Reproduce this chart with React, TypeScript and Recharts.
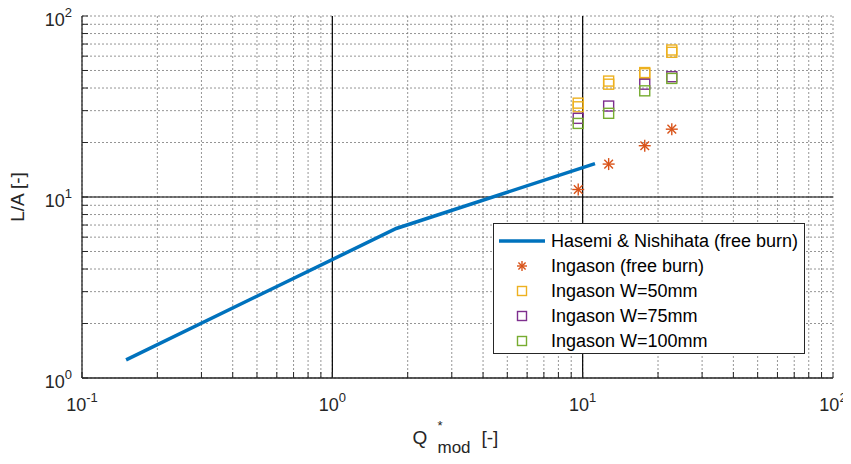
import React from 'react'
import { ComposedChart, Line, Scatter, XAxis, YAxis, CartesianGrid, ReferenceLine } from 'recharts'

// Hasemi & Nishihata correlation (vertices of the log-log polyline)
const hasemiQ = [0.15, 1.8, 11.2]
const hasemiLA = [1.26, 6.7, 15.3]

// Ingason measurements
const freeQ = [9.6, 12.7, 17.7, 22.7]
const freeLA = [11.0, 15.2, 19.2, 23.7]
const w50Q = [9.6, 9.6, 12.7, 12.7, 17.7, 17.7, 22.7, 22.7]
const w50LA = [33.0, 31.5, 43.7, 42.0, 48.7, 48.0, 64.9, 63.0]
const w75Q = [9.6, 12.7, 17.7, 22.7]
const w75LA = [27.2, 31.8, 42.0, 46.2]
const w100Q = [9.6, 12.7, 17.7, 22.7]
const w100LA = [25.5, 29.0, 38.6, 45.2]

const xTicks = [0.1, 0.2, 0.3, 0.4, 0.5, 0.6, 0.7, 0.8, 0.9, 1, 2, 3, 4, 5, 6, 7, 8, 9, 10, 20, 30, 40, 50, 60, 70, 80, 90, 100]
const yTicks = [1, 2, 3, 4, 5, 6, 7, 8, 9, 10, 20, 30, 40, 50, 60, 70, 80, 90, 100]
const xMajorGrid = [1, 10]
const yMajorGrid = [10]

const BLUE = '#0072BD'
const ORANGE = '#D95319'
const YELLOW = '#EDB120'
const PURPLE = '#7E2F8E'
const GREEN = '#77AC30'
const INK = '#262626'

const pts = (xs: number[], ys: number[]) => xs.map((x, i) => ({ x, y: ys[i] }))
const hasemi = pts(hasemiQ, hasemiLA)
const free = pts(freeQ, freeLA)
const w50 = pts(w50Q, w50LA)
const w75 = pts(w75Q, w75LA)
const w100 = pts(w100Q, w100LA)

const decade = (v: number) => {
  const l = Math.log10(v)
  return Math.abs(l - Math.round(l)) < 1e-9 ? Math.round(l) : null
}

function BottomTick({ x, y, payload }: any) {
  const e = decade(payload.value)
  return (
    <g>
      <line x1={x} x2={x} y1={y} y2={y - 6} stroke={INK} />
      {e !== null && (
        <text x={x} y={y + 33} textAnchor="middle" fontSize={18} fill={INK}>
          10<tspan dy={-9} fontSize={13}>{e}</tspan>
        </text>
      )}
    </g>
  )
}

function LeftTick({ x, y, payload }: any) {
  const e = decade(payload.value)
  return (
    <g>
      <line x1={x} x2={x + 6} y1={y} y2={y} stroke={INK} />
      {e !== null && (
        <text x={x - 10} y={y + 10} textAnchor="end" fontSize={18} fill={INK}>
          10<tspan dy={-9} fontSize={13}>{e}</tspan>
        </text>
      )}
    </g>
  )
}

const TopTick = ({ x, y }: any) => <line x1={x} x2={x} y1={y} y2={y + 6} stroke={INK} />
const RightTick = ({ x, y }: any) => <line x1={x} x2={x - 6} y1={y} y2={y} stroke={INK} />

function XTitle({ viewBox }: any) {
  const cx = viewBox.x + viewBox.width / 2
  const base = viewBox.y + 66
  return (
    <text x={cx - 45} y={base} fontSize={19} fill={INK}>
      Q
      <tspan x={cx - 20} y={base - 14} fontSize={13}>*</tspan>
      <tspan x={cx - 20} y={base + 9} fontSize={17}>mod</tspan>
      <tspan x={cx + 24} y={base}>[-]</tspan>
    </text>
  )
}

function YTitle({ viewBox }: any) {
  const cy = viewBox.y + viewBox.height / 2
  return (
    <text x={24} y={cy} transform={`rotate(-90 24 ${cy})`} textAnchor="middle" fontSize={19} fill={INK}>
      L/A [-]
    </text>
  )
}

const Star = ({ cx, cy, color = ORANGE, r = 6 }: any) => {
  const d = r * 0.72
  return (
    <g stroke={color} strokeWidth={1.4}>
      <line x1={cx - r} x2={cx + r} y1={cy} y2={cy} />
      <line x1={cx} x2={cx} y1={cy - r} y2={cy + r} />
      <line x1={cx - d} x2={cx + d} y1={cy - d} y2={cy + d} />
      <line x1={cx - d} x2={cx + d} y1={cy + d} y2={cy - d} />
    </g>
  )
}

const square = (color: string, s = 10) => ({ cx, cy }: any) => (
  <rect x={cx - s / 2} y={cy - s / 2} width={s} height={s} fill="none" stroke={color} strokeWidth={1.4} />
)

const legendRows = [
  { label: 'Hasemi & Nishihata (free burn)', kind: 'line', color: BLUE },
  { label: 'Ingason (free burn)', kind: 'star', color: ORANGE },
  { label: 'Ingason W=50mm', kind: 'square', color: YELLOW },
  { label: 'Ingason W=75mm', kind: 'square', color: PURPLE },
  { label: 'Ingason W=100mm', kind: 'square', color: GREEN },
]

function LegendBox() {
  return (
    <div style={{ position: 'absolute', left: 493, top: 223, width: 312, height: 131, border: `1px solid ${INK}`, background: '#fff', boxSizing: 'border-box' }}>
      <svg width={312} height={131} style={{ position: 'absolute', left: 0, top: 0 }}>
        {legendRows.map((r, i) => {
          const cy = 17 + i * 25
          return (
            <g key={r.label}>
              {r.kind === 'line' && <line x1={5} x2={51} y1={cy} y2={cy} stroke={r.color} strokeWidth={3.5} />}
              {r.kind === 'star' && <Star cx={28} cy={cy} color={r.color} r={5} />}
              {r.kind === 'square' && square(r.color, 9)({ cx: 28, cy })}
              <text x={57} y={cy + 6} fontSize={18} fill="#000">{r.label}</text>
            </g>
          )
        })}
      </svg>
    </div>
  )
}

export default function App() {
  return (
    <div style={{ position: 'relative', width: 851, height: 464, margin: -8, background: '#fff', fontFamily: '"Liberation Sans", Arial, sans-serif' }}>
      <ComposedChart width={851} height={464} margin={{ top: 16, right: 18, bottom: 0, left: 0 }}>
        <CartesianGrid stroke="#7a7a7a" strokeDasharray="2 2" strokeWidth={0.8} />
        <XAxis xAxisId={0} dataKey="x" type="number" scale="log" domain={[0.1, 100]} allowDataOverflow ticks={xTicks}
          interval={0} tickSize={0} tickMargin={0} height={86} tick={<BottomTick />} stroke={INK} strokeWidth={1.3}
          label={<XTitle />} />
        <XAxis xAxisId="top" orientation="top" dataKey="x" type="number" scale="log" domain={[0.1, 100]} allowDataOverflow
          ticks={xTicks} interval={0} tickSize={0} tickMargin={0} height={0} tick={<TopTick />} stroke={INK} strokeWidth={1.3} />
        <YAxis yAxisId={0} dataKey="y" type="number" scale="log" domain={[1, 100]} allowDataOverflow ticks={yTicks}
          interval={0} tickSize={0} tickMargin={0} width={82} tick={<LeftTick />} stroke={INK} strokeWidth={1.3}
          label={<YTitle />} />
        <YAxis yAxisId="right" orientation="right" dataKey="y" type="number" scale="log" domain={[1, 100]} allowDataOverflow
          ticks={yTicks} interval={0} tickSize={0} tickMargin={0} width={0} tick={<RightTick />} stroke={INK} strokeWidth={1.3} />
        {xMajorGrid.map(v => <ReferenceLine key={'x' + v} x={v} stroke="#000" strokeWidth={1.2} />)}
        {yMajorGrid.map(v => <ReferenceLine key={'y' + v} y={v} stroke="#000" strokeWidth={1.2} />)}
        <Line data={hasemi} dataKey="y" stroke={BLUE} strokeWidth={3.5} dot={false} isAnimationActive={false} />
        <Scatter data={free} dataKey="y" shape={<Star />} isAnimationActive={false} />
        <Scatter data={w50} dataKey="y" shape={square(YELLOW)} isAnimationActive={false} />
        <Scatter data={w75} dataKey="y" shape={square(PURPLE)} isAnimationActive={false} />
        <Scatter data={w100} dataKey="y" shape={square(GREEN)} isAnimationActive={false} />
      </ComposedChart>
      <LegendBox />
    </div>
  )
}
